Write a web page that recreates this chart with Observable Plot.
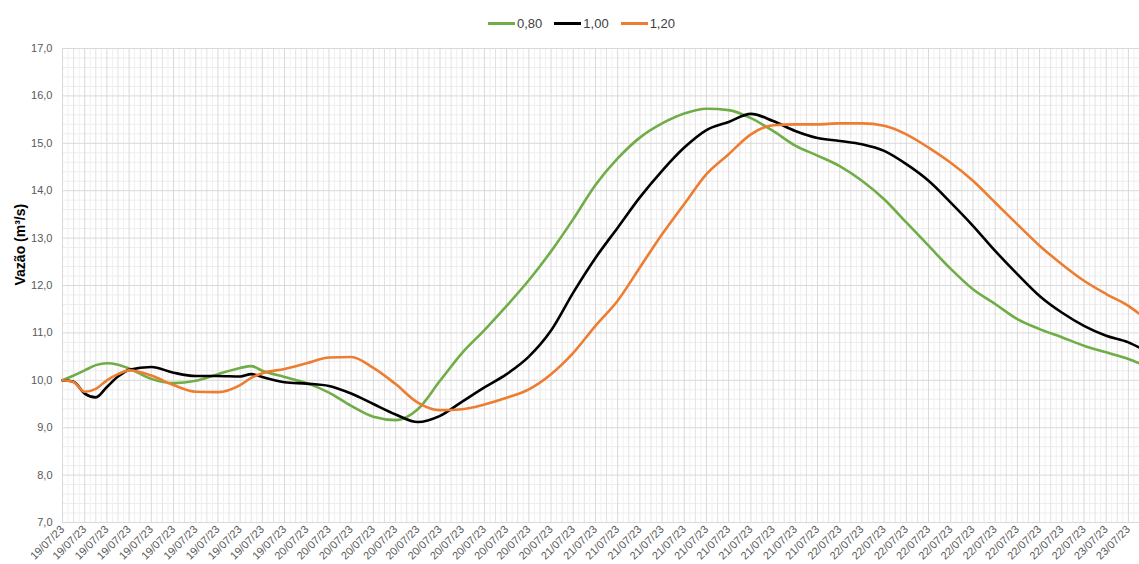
<!DOCTYPE html>
<html><head><meta charset="utf-8">
<script src="https://cdn.jsdelivr.net/npm/d3@7"></script>
<script src="https://cdn.jsdelivr.net/npm/@observablehq/plot@0.6"></script>
<style>
body{margin:0;background:#fff;font-family:"Liberation Sans",Arial,sans-serif;}
#wrap{position:relative;width:1139px;height:564px;overflow:hidden;}
#legend{position:absolute;top:14px;left:488px;height:18px;display:flex;align-items:center;font-size:13px;color:#404040;}
.item{display:flex;align-items:center;margin-right:12px;}
.sw{width:27px;height:3px;margin-right:2px;}
#chart{position:absolute;top:0;left:0;}
</style></head><body>
<div id="wrap"><div id="chart"></div><div id="legend"></div></div>
<script>
// Time axis: hours after 19/07/23 02:00
const startTime = Date.UTC(2023, 6, 19, 2);
const endHour = 97;
const hours = [0,1,2,3,4,5,6,8,10,12,14,16,17,18,20,22,24,26,28,30,32,34,36,38,40,42,44,46,48,50,52,54,56,58,60,62,64,66,68,70,72,74,76,78,80,82,84,86,88,90,92,94,96,97];

const seriesNames = ["0,80", "1,00", "1,20"];
const seriesColors = ["#70ad47", "#000000", "#ed7d31"];

const v080 = [10.00,10.10,10.21,10.32,10.36,10.33,10.25,10.03,9.94,9.99,10.13,10.26,10.30,10.20,10.07,9.94,9.74,9.46,9.23,9.16,9.39,9.99,10.58,11.06,11.57,12.11,12.72,13.40,14.12,14.68,15.12,15.42,15.63,15.73,15.70,15.53,15.26,14.95,14.74,14.52,14.21,13.82,13.33,12.84,12.35,11.92,11.61,11.29,11.08,10.91,10.73,10.59,10.45,10.36];
const v100 = [10.00,9.97,9.72,9.64,9.86,10.08,10.22,10.28,10.16,10.09,10.09,10.08,10.13,10.07,9.96,9.93,9.88,9.72,9.50,9.28,9.12,9.25,9.55,9.85,10.13,10.50,11.05,11.85,12.58,13.22,13.86,14.42,14.91,15.28,15.45,15.62,15.47,15.26,15.11,15.05,14.98,14.84,14.56,14.21,13.75,13.26,12.73,12.24,11.78,11.43,11.15,10.94,10.80,10.69];
const v120 = [10.00,9.96,9.76,9.82,10.00,10.13,10.21,10.10,9.90,9.76,9.75,9.90,10.05,10.15,10.24,10.36,10.48,10.49,10.26,9.92,9.53,9.37,9.39,9.49,9.63,9.81,10.13,10.58,11.15,11.68,12.38,13.08,13.72,14.35,14.77,15.19,15.38,15.40,15.40,15.42,15.42,15.37,15.19,14.91,14.59,14.21,13.75,13.29,12.84,12.45,12.10,11.82,11.57,11.40];

const yTicks = [7,8,9,10,11,12,13,14,15,16,17];
const xTickHours = d3.range(0, 97, 2);

const toDate = h => new Date(startTime + h * 3600e3);
const values = [v080, v100, v120];
const rows = [];
seriesNames.forEach((s, i) => hours.forEach((h, j) => rows.push({t: toDate(h), v: values[i][j], s})));

const fmtX = d3.utcFormat("%d/%m/%y");
const fmtY = d => d.toFixed(1).replace(".", ",");

const yMinor = d3.range(7, 17.001, 0.2).filter(v => Math.abs(v - Math.round(v)) > 1e-6);
const xHalf = d3.range(0.5, endHour, 1).map(toDate);
const xHour = d3.range(1, endHour + 0.001, 2).map(toDate);
const xMajor = xTickHours.map(toDate);

const chart = Plot.plot({
  width: 1139, height: 564,
  marginTop: 48, marginBottom: 42, marginLeft: 62, marginRight: 0,
  style: {fontFamily: '"Liberation Sans", Arial, sans-serif', background: "#fff"},
  x: {type: "utc", domain: [toDate(0), toDate(endHour)]},
  y: {domain: [7, 17]},
  color: {domain: seriesNames, range: seriesColors},
  marks: [
    Plot.ruleY(yMinor, {stroke: "#ededed", strokeWidth: 1}),
    Plot.ruleX(xHalf, {stroke: "#f0f0f0", strokeWidth: 1}),
    Plot.ruleX(xHour, {stroke: "#e3e3e3", strokeWidth: 1}),
    Plot.ruleX(xMajor, {stroke: "#d9d9d9", strokeWidth: 1}),
    Plot.ruleY(yTicks, {stroke: "#d9d9d9", strokeWidth: 1}),
    Plot.axisY({ticks: yTicks, tickFormat: fmtY, tickSize: 0, tickPadding: 10, fontSize: 11, fill: "#595959", label: null}),
    Plot.axisX({ticks: xMajor, tickFormat: fmtX, tickRotate: -45, tickSize: 0, tickPadding: 5, fontSize: 11, fill: "#595959", label: null}),
    Plot.text(["Vazão (m³/s)"], {frameAnchor: "left", dx: -42, rotate: -90, fontWeight: "bold", fontSize: 14, fill: "#000"}),
    Plot.line(rows, {x: "t", y: "v", z: "s", stroke: "s", strokeWidth: 2.6, strokeLinejoin: "round", curve: "monotone-x"})
  ]
});
document.getElementById("chart").appendChild(chart);

const leg = document.getElementById("legend");
seriesNames.forEach((s, i) => {
  const it = document.createElement("div"); it.className = "item";
  const sw = document.createElement("div"); sw.className = "sw"; sw.style.background = seriesColors[i];
  const tx = document.createElement("span"); tx.textContent = s;
  it.appendChild(sw); it.appendChild(tx); leg.appendChild(it);
});
</script>
</body></html>
